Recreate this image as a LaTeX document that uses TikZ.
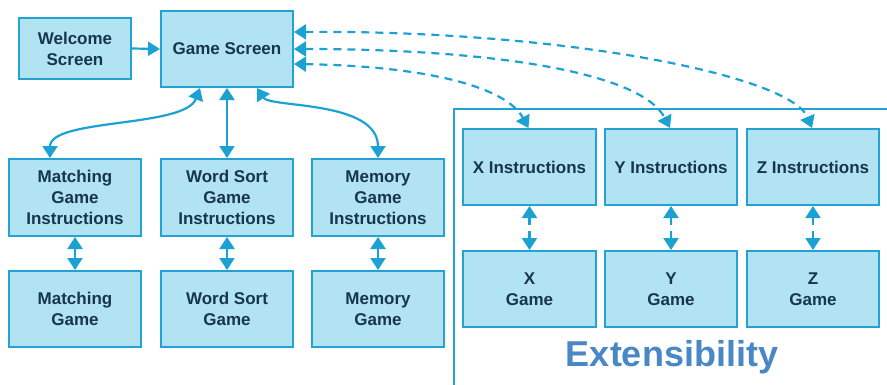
\documentclass[tikz,border=0pt]{standalone}
\usepackage{fontspec}
\setmainfont{Liberation Sans}
\usetikzlibrary{arrows.meta,calc}
\definecolor{boxfill}{HTML}{B2E3F3}
\definecolor{boxline}{HTML}{22A3D3}
\definecolor{arr}{HTML}{1BA1D4}
\definecolor{txt}{HTML}{17364A}
\definecolor{ext}{HTML}{4A87C6}
\begin{document}
\begin{tikzpicture}[x=1pt,y=-1pt,
  box/.style={draw=boxline,fill=boxfill,line width=2pt,align=center,text=txt,
    font=\fontsize{17}{21}\selectfont\bfseries,inner sep=0pt},
  conn/.style={draw=arr,line width=2.2pt,{Triangle[length=12pt,width=15pt]}-{Triangle[length=12pt,width=15pt]}},
  oneway/.style={draw=arr,line width=2.2pt,-{Triangle[length=12pt,width=14pt]}},
  dconn/.style={conn,dash pattern=on 8pt off 6pt}]
\useasboundingbox (0,0) rectangle (887,384);
% extensibility frame
\coordinate (fb) at (454,390);
\coordinate (fc) at (454,109);
\coordinate (fr) at (892,109);
\draw[boxline,line width=2pt] (fb) -- (fc) -- (fr);
\node[text=ext,font=\fontsize{36}{40}\selectfont\bfseries] (extl) at (672,357) {Extensibility};
% boxes
\node[box,minimum width=112pt,minimum height=61pt] (ws) at (75,48.5) {Welcome\\Screen};
\node[box,minimum width=132pt,minimum height=76pt] (gs) at (227,49) {Game Screen};
\node[box,minimum width=132pt,minimum height=77pt] (mi) at (75,197.5) {Matching\\Game\\Instructions};
\node[box,minimum width=132pt,minimum height=77pt] (wi) at (227,197.5) {Word Sort\\Game\\Instructions};
\node[box,minimum width=132pt,minimum height=77pt] (memi) at (378,197.5) {Memory\\Game\\Instructions};
\node[box,minimum width=132pt,minimum height=76pt] (mg) at (75,309) {Matching\\Game};
\node[box,minimum width=132pt,minimum height=76pt] (wg) at (227,309) {Word Sort\\Game};
\node[box,minimum width=132pt,minimum height=76pt] (memg) at (378,309) {Memory\\Game};
\node[box,minimum width=133pt,minimum height=76pt] (xi) at (529.5,167) {X Instructions};
\node[box,minimum width=132pt,minimum height=76pt] (yi) at (671,167) {Y Instructions};
\node[box,minimum width=132pt,minimum height=76pt] (zi) at (813,167) {Z Instructions};
\node[box,minimum width=133pt,minimum height=76pt] (xg) at (529.5,289) {X\\Game};
\node[box,minimum width=132pt,minimum height=76pt] (yg) at (671,289) {Y\\Game};
\node[box,minimum width=132pt,minimum height=76pt] (zg) at (813,289) {Z\\Game};
% connectors
\draw[oneway] (ws.east) -- (gs.west);
\draw[conn] ($(gs.south)+(-27,0)$) .. controls (185,128) and (50,118) .. ($(mi.north)+(-25,0)$);
\draw[conn] (gs.south) -- (wi.north);
\draw[conn] ($(gs.south)+(30,0)$) .. controls (270,108) and (378,100) .. (memi.north);
\draw[conn] (mi) -- (mg);
\draw[conn] (wi) -- (wg);
\draw[conn] (memi) -- (memg);
\draw[dconn] (xi) -- (xg);
\draw[dconn] (yi) -- (yg);
\draw[dconn] (zi) -- (zg);
\draw[dconn] ($(gs.east)+(0,-17)$) .. controls (560,30) and (790,75) .. ($(zi.north)+(-1,0)$);
\draw[dconn] (gs.east) .. controls (480,49) and (640,70) .. ($(yi.north)+(-1,0)$);
\draw[dconn] ($(gs.east)+(0,15)$) .. controls (420,66) and (505,85) .. ($(xi.north)+(-1,0)$);
\end{tikzpicture}
\end{document}
